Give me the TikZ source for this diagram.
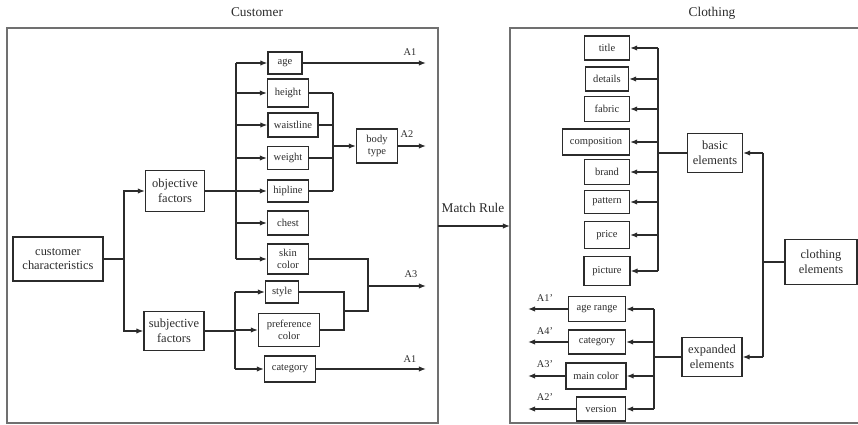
\documentclass[tikz,border=0pt]{standalone}
\usepackage{fontspec}
\setmainfont{Liberation Serif}
\usetikzlibrary{arrows.meta}
\definecolor{ink}{HTML}{2B2B2B}
\definecolor{framegray}{HTML}{707070}
\begin{document}
\begin{tikzpicture}[x=0.03cm,y=-0.03cm,line width=1.1pt,draw=ink,text=ink,
  box/.style={draw,align=center,inner sep=1pt,font=\fontsize{9}{10}\selectfont},
  bigbox/.style={box,font=\fontsize{10.6}{12.4}\selectfont},
  wh/.style 2 args={minimum width=#1*0.03cm,minimum height=#2*0.03cm},
  arr/.style={-{Latex[length=6pt,width=4.6pt]}},
  lab/.style={inner sep=1pt,font=\fontsize{8.8}{9}\selectfont},
  title/.style={inner sep=1pt,font=\fontsize{11.4}{13}\selectfont},
  frame/.style={draw=framegray,line width=1.6pt}]
\useasboundingbox (0,0) rectangle (858,425);
\draw[frame] (7,28) rectangle (438,423);
\draw[frame] (864,28) -- (510,28) -- (510,423) -- (864,423);
\node[title] (tcust) at (257,12) {Customer};
\node[title] (tcloth) at (712,13) {Clothing};
\node[title] (tmatch) at (473,208) {Match Rule};
\coordinate (mrs) at (438,226);
\coordinate (mre) at (510,226);
\draw[arr] (mrs) -- (mre);
\node[bigbox,wh={90}{44}] (cust) at (58,259) {customer\\characteristics};
\node[bigbox,wh={59}{41}] (objective) at (175,191) {objective\\factors};
\node[bigbox,wh={60}{39}] (subj) at (174,331) {subjective\\factors};
\node[box,wh={34}{22}] (age) at (285,63) {age};
\node[box,wh={41}{28}] (height) at (288,93) {height};
\node[box,wh={50}{24}] (waistline) at (293,125) {waistline};
\node[box,wh={41}{23}] (weight) at (288,158) {weight};
\node[box,wh={41}{22}] (hipline) at (288,191) {hipline};
\node[box,wh={41}{24}] (chest) at (288,223) {chest};
\node[box,wh={41}{30}] (skin) at (288,259) {skin\\color};
\node[box,wh={33}{22}] (style) at (282,292) {style};
\node[box,wh={61}{33}] (pref) at (289,330) {preference\\color};
\node[box,wh={51}{26}] (categ) at (290,369) {category};
\node[box,wh={41}{34}] (bodytype) at (377,146) {body\\type};
\coordinate (jc) at (124,259);
\draw (cust.east) -- (jc);
\draw[arr] (jc) |- (objective.west);
\draw[arr] (jc) |- (subj.west);
\coordinate (jo) at (236,191);
\draw (objective.east) -- (jo);
\draw (jo |- age.west) -- (jo |- skin.west);
\foreach \n in {age,height,waistline,weight,hipline,chest,skin}
  \draw[arr] (jo |- \n.west) -- (\n.west);
\coordinate (js) at (235,331);
\draw (subj.east) -- (js);
\draw (js |- style.west) -- (js |- categ.west);
\foreach \n in {style,pref,categ}
  \draw[arr] (js |- \n.west) -- (\n.west);
\coordinate (jb) at (333,146);
\foreach \n in {height,waistline,weight,hipline}
  \draw (\n.east) -- (jb |- \n.east);
\draw (jb |- height.east) -- (jb |- hipline.east);
\draw[arr] (jb) -- (bodytype.west);
\coordinate (a1) at (426,63);
\coordinate (a2) at (426,146);
\coordinate (a3) at (426,286);
\coordinate (a1b) at (426,369);
\draw[arr] (age.east) -- (a1);
\draw[arr] (bodytype.east) -- (a2);
\draw[arr] (categ.east) -- (a1b);
\coordinate (jp) at (344,311);
\coordinate (jk) at (368,311);
\coordinate (jk2) at (368,286);
\draw (style.east) -| (jp);
\draw (pref.east) -| (jp);
\draw (skin.east) -| (jk) -- (jp);
\draw[arr] (jk2) -- (a3);
\node[lab] (lA1) at (410,52) {A1};
\node[lab] (lA2) at (407,134) {A2};
\node[lab] (lA3) at (411,274) {A3};
\node[lab] (lA1b) at (410,359) {A1};
\node[box,wh={45}{24}] (title) at (607,48) {title};
\node[box,wh={43}{24}] (details) at (607,79) {details};
\node[box,wh={45}{25}] (fabric) at (607,109) {fabric};
\node[box,wh={67}{26}] (compo) at (596,142) {composition};
\node[box,wh={45}{25}] (brand) at (607,172) {brand};
\node[box,wh={45}{23}] (pattern) at (607,202) {pattern};
\node[box,wh={45}{27}] (price) at (607,235) {price};
\node[box,wh={46}{29}] (picture) at (607,271) {picture};
\node[bigbox,wh={55}{39}] (basic) at (715,153) {basic\\elements};
\node[bigbox,wh={72}{45}] (cloth) at (821,262) {clothing\\elements};
\node[bigbox,wh={60}{39}] (expanded) at (712,357) {expanded\\elements};
\node[box,wh={57}{25}] (agerange) at (597,309) {age range};
\node[box,wh={57}{24}] (categ2) at (597,342) {category};
\node[box,wh={60}{26}] (maincolor) at (596,376) {main color};
\node[box,wh={49}{24}] (version) at (601,409) {version};
\coordinate (jt) at (658,153);
\draw (basic.west) -- (jt);
\draw (jt |- title.east) -- (jt |- picture.east);
\foreach \n in {title,details,fabric,compo,brand,pattern,price,picture}
  \draw[arr] (jt |- \n.east) -- (\n.east);
\coordinate (jce) at (763,262);
\draw (cloth.west) -- (jce);
\draw (jce |- basic.east) -- (jce |- expanded.east);
\draw[arr] (jce |- basic.east) -- (basic.east);
\draw[arr] (jce |- expanded.east) -- (expanded.east);
\coordinate (jx) at (654,357);
\draw (expanded.west) -- (jx);
\draw (jx |- agerange.east) -- (jx |- version.east);
\coordinate (ox) at (528,0);
\foreach \n in {agerange,categ2,maincolor,version}{
  \draw[arr] (jx |- \n.east) -- (\n.east);
  \draw[arr] (\n.west) -- (ox |- \n.west);
}
\node[lab] (lB1) at (545,298) {A1'};
\node[lab] (lB4) at (545,331) {A4'};
\node[lab] (lB3) at (545,364) {A3'};
\node[lab] (lB2) at (545,397) {A2'};
\end{tikzpicture}
\end{document}
